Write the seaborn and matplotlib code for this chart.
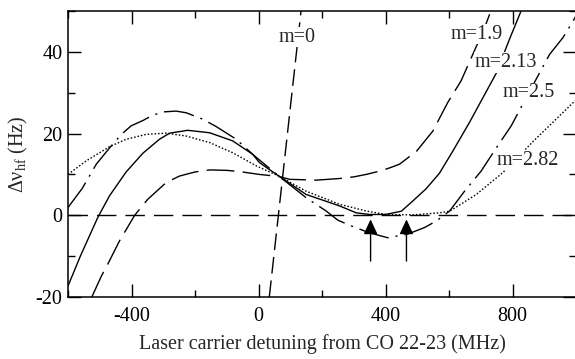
import numpy as np
import pandas as pd
import matplotlib
matplotlib.use("Agg")
import matplotlib.pyplot as plt
from matplotlib.ticker import MultipleLocator
import seaborn as sns

# ---- data ----
x_m190 = [-525, -495, -475, -438, -390, -349, -291, -249, -200, -154, -100, -60, 3, 64, 98, 182, 255, 300, 339, 381, 413, 444, 498, 549, 596, 638, 675, 710, 728]
y_m190 = [-20, -14.9, -12, -6.3, 0, 3.9, 8.0, 9.6, 10.6, 11.1, 11.0, 10.7, 10.0, 9.5, 8.8, 8.6, 9.0, 9.4, 10.0, 10.8, 11.6, 12.5, 15.7, 20.6, 27.6, 32.9, 39.4, 45.5, 49.2]

x_m213 = [-600, -560, -506, -469, -417, -364, -312, -280, -223, -154, -81, -18, 3, 64, 150, 255, 308, 350, 400, 450, 486, 528, 570, 612, 665, 707, 749, 790, 827]
y_m213 = [-17.3, -9.8, -0.5, 4.8, 10.6, 15.2, 18.6, 20.1, 20.8, 20.2, 18.2, 14.9, 12.9, 9.6, 5.1, 2.3, 0.6, 0.2, 0.2, 1.0, 3.5, 6.5, 10.3, 15.7, 22.8, 28.8, 34.8, 43.0, 50.0]

x_m250 = [-600, -555, -511, -469, -432, -401, -364, -333, -300, -260, -228, -175, -133, -70, -18, 64, 150, 213, 250, 292, 350, 407, 470, 523, 560, 602, 649, 701, 749, 796, 850, 917, 959, 985, 1000]
y_m250 = [1.9, 6.6, 12.5, 16.5, 19.8, 21.9, 23.2, 24.5, 25.3, 25.5, 25.1, 23.5, 21.7, 18.6, 14.9, 9.6, 4.3, 1.05, -1.2, -2.6, -4.3, -5.5, -4.6, -3.0, -1.4, 1.05, 5.9, 10.8, 16.5, 21.9, 29.8, 39.4, 43.5, 46.8, 48.8]

x_m282 = [-600, -543, -469, -417, -354, -291, -228, -154, -81, -7, 64, 150, 255, 339, 402, 486, 570, 602, 686, 769, 864, 917, 990, 1000]
y_m282 = [10.0, 13.3, 16.8, 18.6, 19.8, 20.1, 19.4, 17.8, 15.3, 12.1, 9.6, 5.9, 2.7, 1.05, 0.2, 0.1, 0.6, 1.0, 5.1, 10.4, 18.0, 22.0, 27.5, 28.2]

x_m0 = [34, 134]
y_m0 = [-20, 50]

labels = ["m=0", "m=1.9", "m=2.13", "m=2.5", "m=2.82"]
label_x = [122, 687, 779, 851, 848]
label_y = [43.6, 44.3, 37.4, 30.0, 13.5]

arrow_x = [353, 466]
arrow_tail, arrow_tip = -11.2, -1.0

# ---- styling ----
sns.set_theme(style="ticks")
plt.rcParams["font.family"] = ["Liberation Serif", "DejaVu Serif"]
plt.rcParams["mathtext.fontset"] = "custom"
plt.rcParams["mathtext.rm"] = "Liberation Serif"
plt.rcParams["mathtext.it"] = "Liberation Serif:italic"
plt.rcParams["axes.unicode_minus"] = False

FS = 14.5
fig = plt.figure(figsize=(5.75, 3.59), dpi=100)
ax = fig.add_axes([68/575, 1-297/359, 508/575, 286/359])

series = [
    ("m=1.9", x_m190, y_m190, (20, 6), 1.0),
    ("m=2.13", x_m213, y_m213, "", 1.0),
    ("m=2.5", x_m250, y_m250, (22, 5, 1.5, 5), 1.0),
    ("m=2.82", x_m282, y_m282, (1.1, 1.4), 1.0),
    ("m=0", x_m0, y_m0, (12, 5), 1.0),
]
for name, xs, ys, dash, lw in series:
    df = pd.DataFrame({"x": xs, "y": ys})
    sns.lineplot(data=df, x="x", y="y", ax=ax, color="black", lw=lw,
                 sort=False, estimator=None)
    l = ax.lines[-1]
    l.set_solid_joinstyle("round")
    if dash:
        l.set_dashes(dash)

ax.axhline(0, color="black", lw=1.0, dashes=(14, 6.5))

for xa in arrow_x:
    ax.annotate("", xy=(xa, arrow_tip), xytext=(xa, arrow_tail),
                arrowprops=dict(arrowstyle="-|>,head_length=0.9,head_width=0.42",
                                mutation_scale=10, color="black", lw=1.0,
                                shrinkA=0, shrinkB=0))

for t, lx, ly in zip(labels, label_x, label_y):
    ax.text(lx, ly, t, ha="center", va="center", fontsize=FS, zorder=5,
            bbox=dict(facecolor="white", edgecolor="none", pad=0.5))

ax.set_xlim(-600, 1000)
ax.set_ylim(-20, 50)
ax.xaxis.set_major_locator(MultipleLocator(400))
ax.xaxis.set_minor_locator(MultipleLocator(200))
ax.yaxis.set_major_locator(MultipleLocator(20))
ax.yaxis.set_minor_locator(MultipleLocator(10))
ax.tick_params(which="both", direction="in", top=True, right=True, width=1.0,
               colors="black", labelsize=FS)
ax.tick_params(which="major", length=9.4)
ax.tick_params(which="minor", length=5.2)
ax.tick_params(axis="x", which="major", pad=7)
ax.tick_params(axis="y", which="major", pad=4)
for s in ax.spines.values():
    s.set_linewidth(1.1)
    s.set_color("black")

ax.set_xlabel("Laser carrier detuning from CO 22-23 (MHz)", fontsize=FS, labelpad=6)
ax.set_ylabel(r"Δν$_{\rm hf}$ (Hz)", fontsize=FS, labelpad=4)

fig.savefig("out.png", dpi=100)
